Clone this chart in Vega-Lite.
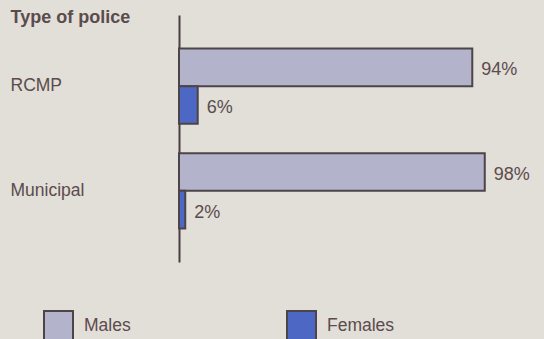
{
  "$schema": "https://vega.github.io/schema/vega-lite/v6.json",
  "autosize": {"type": "none"},
  "padding": {"left": 179, "top": 15, "right": 53, "bottom": 77},
  "width": 312,
  "height": 247,
  "background": "#e2ded8",
  "config": {
    "view": {"stroke": null},
    "font": "Liberation Sans",
    "text": {"font": "Liberation Sans"}
  },
  "data": {
    "values": [
      {"type": "RCMP", "sex": "Males", "share": 0.94},
      {"type": "RCMP", "sex": "Females", "share": 0.06},
      {"type": "Municipal", "sex": "Males", "share": 0.98},
      {"type": "Municipal", "sex": "Females", "share": 0.02}
    ]
  },
  "encoding": {
    "y": {
      "field": "type",
      "type": "nominal",
      "sort": ["RCMP", "Municipal"],
      "scale": {"paddingInner": 0.28, "paddingOuter": 0.32},
      "axis": {
        "title": "Type of police",
        "titleAngle": 0,
        "titleAlign": "left",
        "titleBaseline": "alphabetic",
        "titleX": -169,
        "titleY": 7,
        "titleFont": "Liberation Sans",
        "titleFontSize": 18,
        "titleFontWeight": "bold",
        "titleColor": "#5a4c4c",
        "labelAlign": "left",
        "labelBaseline": "middle",
        "labelPadding": 169,
        "labelFont": "Liberation Sans",
        "labelFontSize": 17.5,
        "labelColor": "#5a4c4c",
        "ticks": false,
        "tickSize": 0,
        "domainColor": "#4a3f40",
        "domainWidth": 2
      }
    },
    "yOffset": {
      "field": "sex",
      "type": "nominal",
      "sort": ["Males", "Females"],
      "scale": {"paddingInner": 0, "paddingOuter": 0}
    },
    "x": {
      "field": "share",
      "type": "quantitative",
      "scale": {"domain": [0, 1]},
      "axis": null
    }
  },
  "layer": [
    {
      "mark": {"type": "bar", "stroke": "#4d4448", "strokeWidth": 2, "cornerRadius": 0},
      "encoding": {
        "color": {
          "field": "sex",
          "type": "nominal",
          "scale": {"domain": ["Males", "Females"], "range": ["#b3b4cb", "#4c68c4"]},
          "legend": {
            "orient": "none",
            "legendX": -136,
            "legendY": 295,
            "direction": "horizontal",
            "columns": 2,
            "columnPadding": 152,
            "title": null,
            "symbolType": "square",
            "symbolSize": 841,
            "symbolStrokeColor": "#4d4448",
            "symbolStrokeWidth": 2,
            "symbolOpacity": 1,
            "labelFont": "Liberation Sans",
            "labelFontSize": 17.5,
            "labelColor": "#5a4c4c",
            "labelOffset": 10
          }
        }
      }
    },
    {
      "mark": {
        "type": "text",
        "align": "left",
        "baseline": "middle",
        "dx": 9,
        "dy": 3,
        "fontSize": 18,
        "font": "Liberation Sans",
        "color": "#5a4c4c"
      },
      "encoding": {
        "text": {"field": "share", "type": "quantitative", "format": ".0%"}
      }
    }
  ]
}
